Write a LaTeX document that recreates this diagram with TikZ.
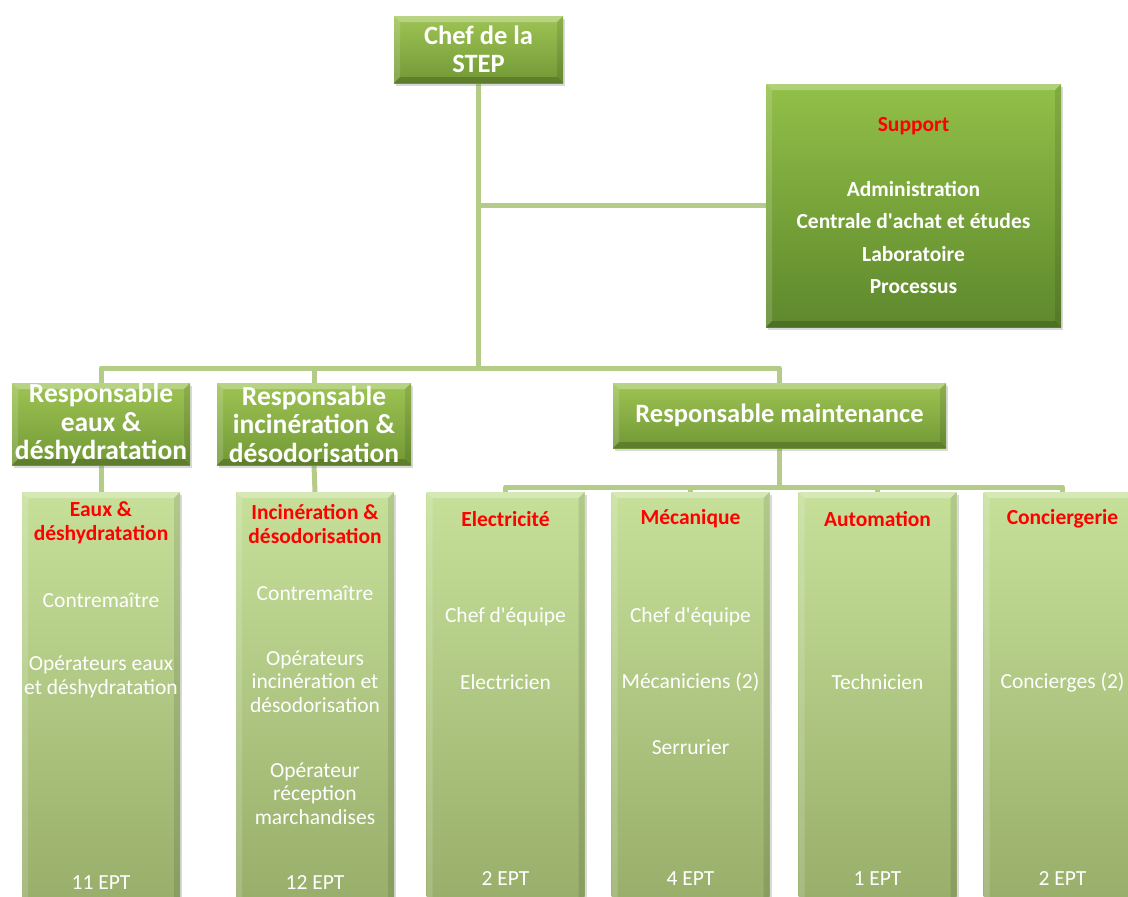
\documentclass[tikz,border=0pt]{standalone}
\usepackage{fontspec}
\setmainfont{Carlito}
\usetikzlibrary{shadows,backgrounds,calc}
\definecolor{conncol}{RGB}{180,204,135}
\definecolor{boxtop}{RGB}{158,196,84}
\definecolor{boxbot}{RGB}{114,152,54}
\definecolor{suptop}{RGB}{146,192,72}
\definecolor{supbot}{RGB}{94,136,44}
\definecolor{coltop}{RGB}{198,224,154}
\definecolor{colmid}{RGB}{183,208,138}
\definecolor{colbot}{RGB}{150,172,104}
\definecolor{titred}{RGB}{255,0,0}
\tikzset{
  bevel/.style={path picture={
    \fill[white,opacity=.28] (path picture bounding box.north west) -- (path picture bounding box.north east)
      -- ($(path picture bounding box.north east)+(-6pt,-6pt)$) -- ($(path picture bounding box.north west)+(6pt,-6pt)$) -- cycle;
    \fill[white,opacity=.15] (path picture bounding box.north west) -- (path picture bounding box.south west)
      -- ($(path picture bounding box.south west)+(6pt,6pt)$) -- ($(path picture bounding box.north west)+(6pt,-6pt)$) -- cycle;
    \fill[black,opacity=.18] (path picture bounding box.south west) -- (path picture bounding box.south east)
      -- ($(path picture bounding box.south east)+(-6pt,6pt)$) -- ($(path picture bounding box.south west)+(6pt,6pt)$) -- cycle;
    \fill[black,opacity=.10] (path picture bounding box.north east) -- (path picture bounding box.south east)
      -- ($(path picture bounding box.south east)+(-6pt,6pt)$) -- ($(path picture bounding box.north east)+(-6pt,-6pt)$) -- cycle;
  }},
  shad/.style={drop shadow={opacity=.3, shadow xshift=2pt, shadow yshift=-3pt}},
  topbox/.style={rectangle, inner sep=0pt, top color=boxtop, bottom color=boxbot, shad, bevel,
    text=white, align=center, font=\bfseries\fontsize{26.5}{28.5}\selectfont},
  supbox/.style={rectangle, inner sep=0pt, top color=suptop, bottom color=supbot, shad, bevel,
    text=white, align=center, font=\bfseries\fontsize{21.5}{32.5}\selectfont},
  colbox/.style={rectangle, inner sep=0pt, anchor=north, minimum width=158pt, minimum height=430pt,
    top color=coltop, middle color=colmid, bottom color=colbot, shad, bevel},
  coltitle/.style={text=titred, align=center, font=\bfseries\fontsize{21.5}{24}\selectfont},
  coltext/.style={text=white, align=center, font=\fontsize{21.5}{23.5}\selectfont},
  conn/.style={draw=conncol, line width=5pt, line join=round},
}
\begin{document}
\begin{tikzpicture}[x=1pt,y=-1pt]
\useasboundingbox (0,0) rectangle (1128,897);
\clip (0,0) rectangle (1128,897);

% top level
\node[topbox, minimum width=169pt, minimum height=67pt] (chef) at (478.5,49.5) {Chef de la\\STEP};
\node[supbox, minimum width=295pt, minimum height=243pt] (sup) at (913.5,205.5)
  {\textcolor{titred}{Support}\\[32.5pt]Administration\\Centrale d\textquotesingle achat et études\\Laboratoire\\Processus};

% responsables
\node[topbox, font=\bfseries\fontsize{27.5}{28.5}\selectfont, minimum width=178pt, minimum height=82pt] (r1) at (101,424) {Responsable\\eaux \&\\déshydratation};
\node[topbox, font=\bfseries\fontsize{27.5}{28.5}\selectfont, minimum width=194pt, minimum height=82pt] (r2) at (314,424) {Responsable\\incinération \&\\désodorisation};
\node[topbox, minimum width=333pt, minimum height=65pt] (rm) at (779.5,415.5) {Responsable maintenance};

% columns
\node[colbox] (c1) at (101,492) {};
\node[colbox] (c2) at (315,492) {};
\node[colbox] (c3) at (505.5,492) {};
\node[colbox] (c4) at (690.5,492) {};
\node[colbox] (c5) at (877.5,492) {};
\node[colbox] (c6) at (1062.5,492) {};

% column 1
\node[coltitle] (t1) at (101,523) {Eaux \&\\déshydratation};
\node[coltext] (a1) at (101,600) {Contremaître};
\node[coltext] (b1) at (101,677) {Opérateurs eaux\\et déshydratation};
\node[coltext] (e1) at (101,883) {11 EPT};
% column 2
\node[coltitle] (t2) at (315,524) {Incinération \&\\désodorisation};
\node[coltext] (a2) at (315,593) {Contremaître};
\node[coltext] (b2) at (315,681.5) {Opérateurs\\incinération et\\désodorisation};
\node[coltext] (d2) at (315,793.5) {Opérateur\\réception\\marchandises};
\node[coltext] (e2) at (315,883) {12 EPT};
% column 3
\node[coltitle] (t3) at (505.5,519) {Electricité};
\node[coltext] (a3) at (505.5,617) {Chef d\textquotesingle équipe};
\node[coltext] (b3) at (505.5,682) {Electricien};
\node[coltext] (e3) at (505.5,879) {2 EPT};
% column 4
\node[coltitle] (t4) at (690.5,519) {Mécanique};
\node[coltext] (a4) at (690.5,617) {Chef d\textquotesingle équipe};
\node[coltext] (b4) at (690.5,682) {Mécaniciens (2)};
\node[coltext] (d4) at (690.5,747) {Serrurier};
\node[coltext] (e4) at (690.5,879) {4 EPT};
% column 5
\node[coltitle] (t5) at (877.5,519) {Automation};
\node[coltext] (b5) at (877.5,682) {Technicien};
\node[coltext] (e5) at (877.5,879) {1 EPT};
% column 6
\node[coltitle] (t6) at (1062.5,519) {Conciergerie};
\node[coltext] (b6) at (1062.5,682) {Concierges (2)};
\node[coltext] (e6) at (1062.5,879) {2 EPT};

\coordinate (bus) at (0,368);
\coordinate (mbus) at (0,487);

\begin{scope}[on background layer]
  \draw[conn] (chef.south) -- (chef.south |- bus);
  \draw[conn] (chef.south |- sup.west) -- (sup.west);
  \draw[conn] (r1.north) -- (r1.north |- bus) -- (rm.north |- bus) -- (rm.north);
  \draw[conn] (r2.north |- bus) -- (r2.north);
  \draw[conn] (r1.south) -- (c1.north);
  \draw[conn] (r2.south) -- (c2.north);
  \draw[conn] (rm.south) -- (rm.south |- mbus);
  \draw[conn] (c3.north) -- (c3.north |- mbus) -- (c6.north |- mbus) -- (c6.north);
  \draw[conn] (c4.north |- mbus) -- (c4.north);
  \draw[conn] (c5.north |- mbus) -- (c5.north);
\end{scope}
\end{tikzpicture}
\end{document}
